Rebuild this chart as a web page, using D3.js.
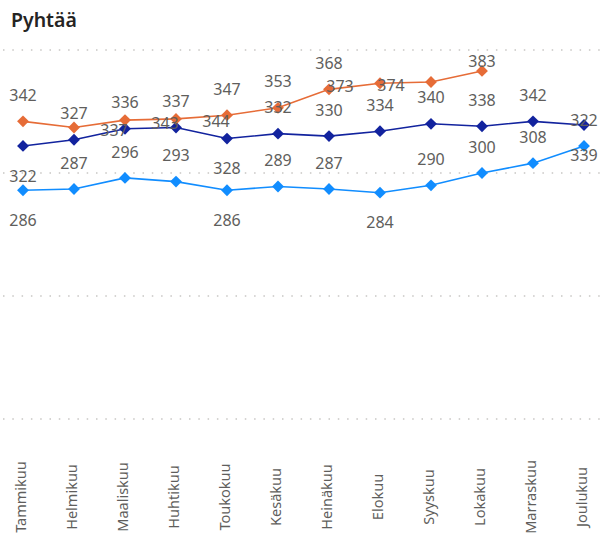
<!DOCTYPE html>
<html>
<head>
<meta charset="utf-8">
<script src="https://cdn.jsdelivr.net/npm/d3@7"></script>
<style>
  body { margin: 0; background: #fff; }
  text { font-family: "Segoe UI", "Noto Sans", "Open Sans", sans-serif; }
</style>
</head>
<body>
<div id="chart"></div>
<script>
// Data
const months = ["Tammikuu", "Helmikuu", "Maaliskuu", "Huhtikuu", "Toukokuu", "Kesäkuu",
  "Heinäkuu", "Elokuu", "Syyskuu", "Lokakuu", "Marraskuu", "Joulukuu"];
const orangeValues = [342, 337, 343, 344, 347, 353, 368, 373, 374, 383, null, null];
const darkValues = [322, 327, 336, 337, 328, 332, 330, 334, 340, 338, 342, 339];
const lightValues = [286, 287, 296, 293, 286, 289, 287, 284, 290, 300, 308, 322];
const gridTicks = [100, 200, 300, 400];

// where Power BI put each data label relative to its point
const orangePlace = ["above", "right", "right", "right", "above", "above", "above", "left", "left", "above"];
const darkPlace = ["below", "above", "above", "above", "below", "above", "above", "above", "above", "above", "above", "below"];
const lightPlace = ["below", "above", "above", "above", "below", "above", "above", "below", "above", "above", "above", "above"];

const width = 604, height = 538;
const plotTop = 50;

const svg = d3.select("#chart")
  .append("svg")
  .attr("width", width)
  .attr("height", height);

// title
svg.append("text")
  .attr("x", 11)
  .attr("y", 27)
  .attr("font-size", 19.5)
  .attr("font-weight", 600)
  .attr("fill", "#252423")
  .text("Pyhtää");

// scales
const x = d3.scalePoint()
  .domain(months)
  .range([23, 584]);

const y = d3.scaleLinear()
  .domain([100, 400])
  .range([419, plotTop]);

// dotted gridlines
svg.append("g")
  .selectAll("line")
  .data(gridTicks)
  .enter()
  .append("line")
  .attr("x1", 3)
  .attr("x2", 604)
  .attr("y1", d => y(d))
  .attr("y2", d => y(d))
  .attr("stroke", "#c8c6c4")
  .attr("stroke-width", 1.5)
  .attr("stroke-dasharray", "1.5,7.8");

// x axis labels (rotated)
const xAxis = svg.append("g")
  .attr("transform", "translate(0,497)")
  .call(d3.axisBottom(x).tickSize(0).tickPadding(0));
xAxis.select(".domain").remove();
xAxis.selectAll("text")
  .attr("transform", "rotate(-90)")
  .attr("text-anchor", "middle")
  .attr("x", 0)
  .attr("y", 0)
  .attr("dy", "0.32em")
  .attr("dx", 0)
  .attr("font-size", 14.5)
  .attr("font-family", "'Segoe UI', 'Noto Sans', sans-serif")
  .attr("fill", "#605e5c");
xAxis.selectAll(".tick")
  .attr("transform", d => `translate(${x(d) - 2},0)`);

const series = [
  { values: lightValues, place: lightPlace, color: "#118dff", width: 1.6 },
  { values: darkValues, place: darkPlace, color: "#12239e", width: 1.6 },
  { values: orangeValues, place: orangePlace, color: "#e66c37", width: 1.6 }
];

const line = d3.line()
  .defined(d => d.v != null)
  .x(d => x(d.m))
  .y(d => y(d.v));

const marker = d3.symbol().type(d3.symbolSquare).size(70);

series.forEach(s => {
  const pts = months.map((m, i) => ({ m: m, v: s.values[i] }));
  svg.append("path")
    .datum(pts)
    .attr("fill", "none")
    .attr("stroke", s.color)
    .attr("stroke-width", s.width)
    .attr("d", line);

  svg.append("g")
    .selectAll("path")
    .data(pts.filter(d => d.v != null))
    .enter()
    .append("path")
    .attr("d", marker)
    .attr("transform", d => `translate(${x(d.m)},${y(d.v)}) rotate(45)`)
    .attr("fill", s.color);
});

// data labels on top
series.forEach(s => {
  const pts = months.map((m, i) => ({ m: m, v: s.values[i], p: s.place[i] }))
    .filter(d => d.v != null);
  svg.append("g")
    .selectAll("text")
    .data(pts)
    .enter()
    .append("text")
    .attr("x", d => {
      const px = x(d.m);
      if (d.p === "right") return px + 40;
      if (d.p === "left") return px - 40;
      return px;
    })
    .attr("y", d => {
      const py = y(d.v);
      let c = py;
      if (d.p === "above") c = py - 26;
      else if (d.p === "below") c = py + 30;
      else c = py + 3;
      return Math.max(c, plotTop + 11);
    })
    .attr("dy", "0.35em")
    .attr("text-anchor", "middle")
    .attr("font-size", 16)
    .attr("fill", "#605e5c")
    .text(d => d.v);
});
</script>
</body>
</html>
